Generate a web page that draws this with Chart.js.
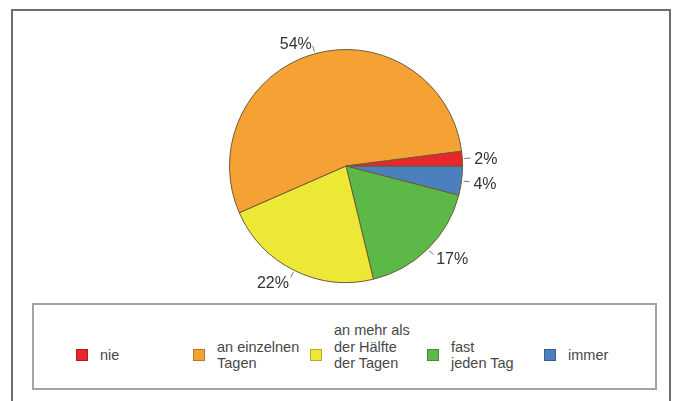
<!DOCTYPE html>
<html>
<head>
<meta charset="utf-8">
<script src="https://cdn.jsdelivr.net/npm/chart.js@4/dist/chart.umd.min.js"></script>
<style>
  body { margin: 0; background: #fff; font-family: "Liberation Sans", Arial, sans-serif; }
  #wrap { position: relative; width: 673px; height: 401px; overflow: hidden; }
  #frame { position: absolute; left: 11px; top: 9px; width: 656px; height: 420px;
           border: 2px solid #6f6f6f; border-bottom: none; }
  #pie { position: absolute; left: 0; top: 0; }
  #legend { position: absolute; left: 32px; top: 303px; width: 621px; height: 83px;
            border: 2px solid #a3a3a3; display: flex; align-items: center;
            box-sizing: content-box; padding: 0; }
  #legend .inner { display: flex; align-items: center; padding-left: 42px; padding-top: 17px;
                   height: 83px; box-sizing: border-box; }
  #legend .item { width: 117px; display: flex; align-items: center; }
  #legend .box { width: 10px; height: 10px; border: 1px solid rgba(0,0,0,0.25); margin-right: 12px; flex: none; }
  #legend .txt { font-size: 14.5px; line-height: 16.5px; color: #474747; }
</style>
</head>
<body>
<div id="wrap">
  <div id="frame"></div>
  <canvas id="pie" width="673" height="300"></canvas>
  <div id="legend"><div class="inner" id="legendItems"></div></div>
</div>
<script>
// Antworten (Reihenfolge wie in der Legende)
var categories = ['nie', ['an einzelnen', 'Tagen'], ['an mehr als', 'der Hälfte', 'der Tagen'], ['fast', 'jeden Tag'], 'immer'];
var shares = [2, 54, 22, 17, 4];
var sliceColors = ['#e8262b', '#f5a133', '#ede836', '#5cb947', '#4b80bf'];

// Legende
var legendEl = document.getElementById('legendItems');
categories.forEach(function (cat, i) {
    var lines = Array.isArray(cat) ? cat : [cat];
    var item = document.createElement('div');
    item.className = 'item';
    var box = document.createElement('div');
    box.className = 'box';
    box.style.background = sliceColors[i];
    var txt = document.createElement('div');
    txt.className = 'txt';
    txt.innerHTML = lines.join('<br>');
    if (lines.length > 2) txt.style.transform = 'translateY(-' + ((lines.length - 2) * 8) + 'px)';
    item.appendChild(box);
    item.appendChild(txt);
    legendEl.appendChild(item);
});

// Prozentwerte außen an den Segmenten
var percentLabels = {
    id: 'percentLabels',
    afterDatasetsDraw: function (chart) {
        var ctx = chart.ctx;
        var ds = chart.data.datasets[0];
        chart.getDatasetMeta(0).data.forEach(function (arc, i) {
            var a = (arc.startAngle + arc.endAngle) / 2;
            var r = arc.outerRadius;
            var c = Math.cos(a), s = Math.sin(a);
            ctx.save();
            ctx.strokeStyle = '#777';
            ctx.lineWidth = 1;
            ctx.beginPath();
            ctx.moveTo(arc.x + c * (r + 2), arc.y + s * (r + 2));
            ctx.lineTo(arc.x + c * (r + 8), arc.y + s * (r + 8));
            ctx.stroke();
            ctx.fillStyle = '#333';
            ctx.font = '16px "Liberation Sans", Arial, sans-serif';
            ctx.textBaseline = 'middle';
            ctx.textAlign = c >= 0 ? 'left' : 'right';
            ctx.fillText(ds.data[i] + '%', arc.x + c * (r + 12), arc.y + s * (r + 12) + 2);
            ctx.restore();
        });
    }
};

var config = {
    type: 'pie',
    data: {
        // gegen den Uhrzeigersinn ab 3 Uhr -> Daten umgedreht
        labels: categories.slice().reverse(),
        datasets: [{
            data: shares.slice().reverse(),
            backgroundColor: sliceColors.slice().reverse(),
            borderColor: '#6e5a38',
            borderWidth: 1
        }]
    },
    options: {
        responsive: false,
        animation: false,
        events: [],
        rotation: 90,
        layout: { padding: { top: 49, bottom: 17, left: 19, right: 0 } },
        plugins: {
            legend: { display: false },
            tooltip: { enabled: false }
        }
    },
    plugins: [percentLabels]
};

var pieChart = document.getElementById('pie').getContext('2d');
var chart = new Chart(pieChart, config);
</script>
</body>
</html>
